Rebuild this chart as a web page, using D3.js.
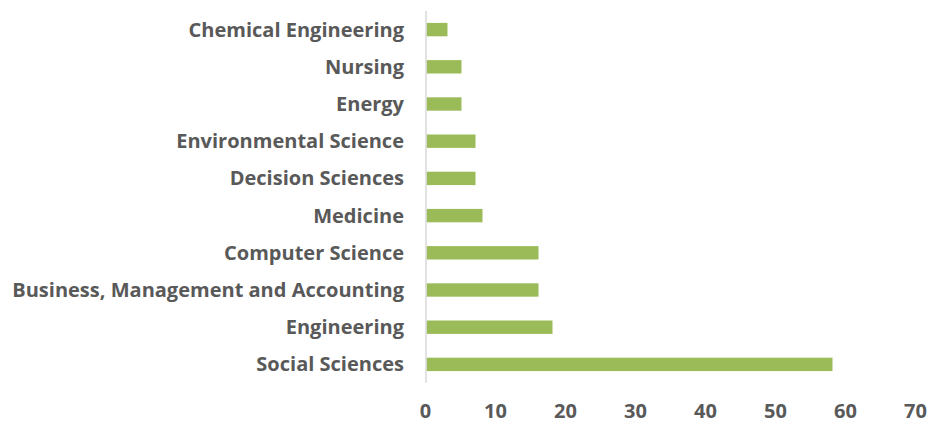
<!DOCTYPE html>
<html>
<head>
<meta charset="utf-8">
<script src="https://cdn.jsdelivr.net/npm/d3@7"></script>
<style>
	body { margin: 0; background: #fff; }
	svg text { font-family: "Open Sans", sans-serif; font-weight: bold; fill: #595959; }
</style>
</head>
<body>
<div id="chart"></div>
<script>
var WIDTH = 932;
var HEIGHT = 424;

// top to bottom, as in the picture
var categories = ['Chemical Engineering', 'Nursing', 'Energy', 'Environmental Science', 'Decision Sciences',
	'Medicine', 'Computer Science', 'Business, Management and Accounting', 'Engineering', 'Social Sciences'];
var values = [3, 5, 5, 7, 7, 8, 16, 16, 18, 58];
var ticks = [0, 10, 20, 30, 40, 50, 60, 70];

var svg = d3.select('#chart').append('svg')
	.attr('width', WIDTH)
	.attr('height', HEIGHT);

var x = d3.scaleLinear()
	.domain([0, 70])
	.range([426.5, 916.5]);

var y = d3.scaleBand()
	.domain(categories)
	.range([11, 383])
	.paddingInner(0.64)
	.paddingOuter(0.32);

svg.append('g')
	.selectAll('rect')
	.data(values)
	.enter().append('rect')
	.attr('x', x(0))
	.attr('y', function(d, i) { return y(categories[i]); })
	.attr('width', function(d) { return x(d) - x(0); })
	.attr('height', y.bandwidth())
	.attr('fill', '#9bbb59');

// vertical axis line
svg.append('line')
	.attr('x1', x(0) - 0.5).attr('x2', x(0) - 0.5)
	.attr('y1', 11).attr('y2', 383)
	.attr('stroke', '#d9d9d9')
	.attr('stroke-width', 1.5);

var labels = svg.append('g')
	.selectAll('text')
	.data(categories)
	.enter().append('text')
	.attr('x', 404)
	.attr('y', function(d) { return y(d) + y.bandwidth()/2; })
	.attr('dy', '0.35em')
	.attr('text-anchor', 'end')
	.attr('font-size', 20)
	.text(function(d) { return d; });

// the original font is narrower, so size the labels to the widest one (392px)
var widest = d3.max(labels.nodes(), function(n) { return n.getComputedTextLength(); });
var fs = 20*392/widest;
labels.attr('font-size', fs);

svg.append('g')
	.selectAll('text')
	.data(ticks)
	.enter().append('text')
	.attr('x', function(d) { return x(d) - 1; })
	.attr('y', 418)
	.attr('text-anchor', 'middle')
	.attr('font-size', 20)
	.text(function(d) { return d; });
</script>
</body>
</html>
